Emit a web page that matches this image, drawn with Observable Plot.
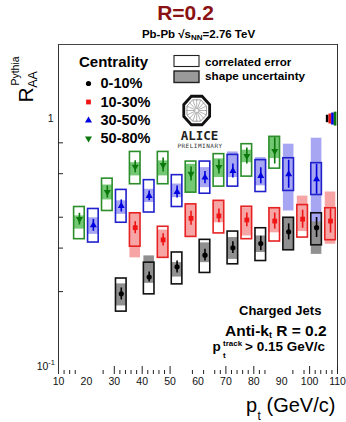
<!DOCTYPE html>
<html>
<head>
<meta charset="utf-8">
<script src="https://cdn.jsdelivr.net/npm/d3@7"></script>
<script src="https://cdn.jsdelivr.net/npm/@observablehq/plot@0.6"></script>
<style>
  html, body { margin: 0; padding: 0; background: #fff; }
  #chart { width: 346px; height: 422px; }
</style>
</head>
<body>
<div id="chart"></div>
<script>
// Centrality classes
const centralities = ["0-10%", "10-30%", "30-50%", "50-80%"];

// Rows: [pT, R_AA, stat low, stat high, correlated low, correlated high, shape low, shape high]
const cent0to10 = [
  [32.5, 0.196, 0.185, 0.207, 0.166, 0.226, 0.175, 0.215],
  [42.5, 0.229, 0.219, 0.240, 0.195, 0.262, 0.216, 0.279],
  [52.5, 0.252, 0.238, 0.266, 0.214, 0.288, 0.229, 0.262],
  [62.5, 0.281, 0.266, 0.297, 0.238, 0.324, 0.262, 0.315],
  [72.5, 0.301, 0.285, 0.318, 0.258, 0.350, 0.270, 0.331],
  [82.5, 0.313, 0.293, 0.335, 0.266, 0.361, 0.288, 0.336],
  [92.5, 0.349, 0.324, 0.376, 0.294, 0.398, 0.294, 0.398],
  [102.5, 0.363, 0.331, 0.399, 0.308, 0.415, 0.283, 0.415]
];
const cent10to30 = [
  [37.5, 0.363, 0.343, 0.384, 0.304, 0.415, 0.274, 0.415],
  [47.5, 0.324, 0.306, 0.343, 0.274, 0.366, 0.274, 0.355],
  [57.5, 0.396, 0.371, 0.423, 0.333, 0.451, 0.333, 0.451],
  [67.5, 0.405, 0.380, 0.432, 0.344, 0.466, 0.380, 0.466],
  [77.5, 0.390, 0.366, 0.416, 0.326, 0.441, 0.336, 0.437],
  [87.5, 0.386, 0.358, 0.416, 0.319, 0.435, 0.346, 0.435],
  [97.5, 0.393, 0.361, 0.427, 0.331, 0.448, 0.350, 0.487],
  [107.5, 0.386, 0.345, 0.432, 0.323, 0.435, 0.311, 0.506]
];
const cent30to50 = [
  [22.5, 0.371, 0.351, 0.392, 0.316, 0.432, 0.341, 0.398],
  [32.5, 0.444, 0.420, 0.470, 0.380, 0.516, 0.411, 0.466],
  [42.5, 0.488, 0.466, 0.511, 0.418, 0.565, 0.459, 0.519],
  [52.5, 0.506, 0.478, 0.535, 0.440, 0.592, 0.480, 0.545],
  [62.5, 0.579, 0.547, 0.612, 0.498, 0.672, 0.527, 0.635],
  [72.5, 0.616, 0.577, 0.657, 0.532, 0.715, 0.579, 0.735],
  [82.5, 0.588, 0.546, 0.634, 0.506, 0.681, 0.536, 0.697],
  [92.5, 0.597, 0.524, 0.680, 0.511, 0.693, 0.424, 0.790],
  [102.5, 0.570, 0.496, 0.655, 0.492, 0.662, 0.383, 0.835]
];
const cent50to80 = [
  [17.5, 0.393, 0.372, 0.415, 0.326, 0.440, 0.358, 0.405],
  [27.5, 0.506, 0.478, 0.535, 0.424, 0.573, 0.470, 0.540],
  [37.5, 0.640, 0.605, 0.677, 0.544, 0.735, 0.588, 0.665],
  [47.5, 0.650, 0.609, 0.694, 0.544, 0.735, 0.588, 0.676],
  [57.5, 0.599, 0.561, 0.639, 0.503, 0.672, 0.503, 0.655],
  [67.5, 0.639, 0.599, 0.682, 0.532, 0.720, 0.579, 0.689],
  [77.5, 0.708, 0.657, 0.763, 0.584, 0.790, 0.665, 0.747],
  [87.5, 0.742, 0.657, 0.838, 0.629, 0.846, 0.691, 0.846]
];

// Normalisation uncertainty at R_AA = 1, one per centrality class
const normUncertainty = [0.035, 0.047, 0.056, 0.065];

// Axis ticks
const xTickLabels = [10, 20, 30, 40, 50, 60, 70, 80, 90, 100, 110];
const xMajorTicks = [30, 40, 50, 70, 80, 100, 110];
const xMinorTicks = [12, 14, 16, 26, 32, 34, 36, 38, 42, 44, 46, 48, 58, 62, 66, 68, 72, 74, 76, 78, 82, 84, 94, 98, 102, 104, 106, 108];
const yMinorTicks = [0.2, 0.3, 0.4, 0.6, 0.8];

// Layout
const W = 346, H = 422;
const M = {top: 44, right: 9, bottom: 48, left: 58};
const xDomain = [10, 110], yDomain = [0.0924, 2.0];
const xs = d3.scaleLinear(xDomain, [M.left, W - M.right]);
const ys = d3.scaleLog(yDomain, [H - M.bottom, M.top]);
const frameW = W - M.left - M.right, frameH = H - M.top - M.bottom;

const series = [
  {rows: cent0to10,  marker: "#000000", line: "#111111", fill: "#909090", symbol: "circle",   rotate: 0,   r: 2.6},
  {rows: cent10to30, marker: "#f01414", line: "#e62222", fill: "#f6a4a4", symbol: "square",   rotate: 0,   r: 2.7},
  {rows: cent30to50, marker: "#0000e0", line: "#2020cc", fill: "#a6a6f2", symbol: "triangle", rotate: 0,   r: 2.6},
  {rows: cent50to80, marker: "#0a780a", line: "#2b8e2b", fill: "#74c874", symbol: "triangle", rotate: 180, r: 2.6}
];
const hw = 1.9; // half width of systematic boxes in GeV/c
const legendY = [83, 101.5, 120, 138];

const plot = Plot.plot({
  width: W, height: H,
  marginTop: M.top, marginRight: M.right, marginBottom: M.bottom, marginLeft: M.left,
  style: {fontFamily: "'Liberation Sans', Arial, sans-serif", background: "#fff", overflow: "visible"},
  x: {domain: xDomain, axis: null},
  y: {type: "log", domain: yDomain, axis: null},
  marks: [
    // shape uncertainty
    ...series.map(s => Plot.rect(s.rows, {x1: d => d[0] - hw, x2: d => d[0] + hw, y1: d => d[6], y2: d => d[7], fill: s.fill})),
    // correlated error
    ...series.map(s => Plot.rect(s.rows, {x1: d => d[0] - hw, x2: d => d[0] + hw, y1: d => d[4], y2: d => d[5], fill: "none", stroke: s.line, strokeWidth: 1.6})),
    // statistical error bars
    ...series.map(s => Plot.ruleX(s.rows, {x: d => d[0], y1: d => d[2], y2: d => d[3], stroke: s.marker, strokeWidth: 1.6})),
    // points
    ...series.map(s => Plot.dot(s.rows, {x: d => d[0], y: d => d[1], symbol: s.symbol, rotate: s.rotate, r: s.r, fill: s.marker, stroke: "none"})),
    // normalisation uncertainty boxes
    ...series.map((s, i) => Plot.rect([normUncertainty[i]], {x1: () => 106 + i * 0.95, x2: () => 106.95 + i * 0.95, y1: d => 1 - d, y2: d => 1 + d, fill: s.marker})),
    // frame
    Plot.ruleX([10, 110], {stroke: "#333", strokeWidth: 1}),
    Plot.ruleY([yDomain[1]], {stroke: "#444", strokeWidth: 1}),
    // ticks
    Plot.ruleX(xMajorTicks, {x: d => d, insetTop: frameH - 8, stroke: "#222"}),
    Plot.ruleX(xMinorTicks, {x: d => d, insetTop: frameH - 4, stroke: "#222"}),
    Plot.ruleY(yMinorTicks, {y: d => d, insetRight: frameW - 5, stroke: "#222"}),
    Plot.text(xTickLabels, {x: d => d, text: d => String(d), frameAnchor: "bottom", dy: 10.5, fontSize: 10.5, fill: "#111"}),
    Plot.text([1], {y: d => d, text: () => "1", frameAnchor: "left", dx: -5, textAnchor: "end", fontSize: 10.5, fill: "#111"}),
    // legend symbols
    ...series.map((s, i) => Plot.dot([centralities[i]], {x: () => xs.invert(88), y: () => ys.invert(legendY[i]), symbol: s.symbol, rotate: s.rotate, r: s.r, fill: s.marker, stroke: "none"})),
    Plot.rect([0], {x1: () => xs.invert(174), x2: () => xs.invert(199), y1: () => ys.invert(55.5), y2: () => ys.invert(66.5), fill: "#fff", stroke: "#222", strokeWidth: 1.1}),
    Plot.rect([0], {x1: () => xs.invert(174), x2: () => xs.invert(199), y1: () => ys.invert(71), y2: () => ys.invert(82.5), fill: "#9a9a9a", stroke: "#222", strokeWidth: 1.4}),
    Plot.text(centralities, {x: () => xs.invert(100), y: (d, i) => ys.invert(legendY[i]), textAnchor: "start", fontSize: 14.5, fontWeight: "bold", fill: "#000"})
  ]
});
document.getElementById("chart").appendChild(plot);

const svg = d3.select(plot);
const FONT = "'Liberation Sans', Arial, sans-serif";
function txt(x, y, str, size, opts = {}) {
  return svg.append("text")
    .attr("x", x).attr("y", y)
    .attr("font-family", opts.family || FONT)
    .attr("font-size", size)
    .attr("font-weight", opts.weight || "normal")
    .attr("text-anchor", opts.anchor || "start")
    .attr("fill", opts.fill || "#000")
    .text(str);
}

// Title and collision system
txt(185.5, 20, "R=0.2", 21, {weight: "bold", anchor: "middle", fill: "#8b1212"});
{
  const t = txt(198.5, 37.5, "Pb-Pb \u221As", 11.5, {weight: "bold", anchor: "middle"});
  t.append("tspan").attr("font-size", 8).attr("dy", 2.5).text("NN");
  t.append("tspan").attr("font-size", 11.5).attr("dy", -2.5).text("=2.76 TeV");
}

// Y axis title
svg.append("text").attr("transform", "translate(33,95) rotate(-90)")
  .attr("font-family", FONT).attr("font-size", 21).text("R");
svg.append("text").attr("transform", "translate(37,79.5) rotate(-90)")
  .attr("font-family", FONT).attr("font-size", 12.5).text("AA");
svg.append("text").attr("transform", "translate(18.5,71) rotate(-90)")
  .attr("font-family", FONT).attr("font-size", 10.5).text("Pythia");

// Lower y tick label 10^-1
{
  const t = txt(55, 369.5, "10", 10.5, {anchor: "end", fill: "#111"});
  t.append("tspan").attr("font-size", 7.5).attr("dy", -4.5).text("-1");
}

// Legend texts
txt(79, 67, "Centrality", 15, {weight: "bold"});
txt(205, 66.3, "correlated error", 11.6, {weight: "bold"});
txt(205, 80, "shape uncertainty", 11.7, {weight: "bold"});

// ALICE logo
{
  const g = svg.append("g").attr("transform", "translate(196.7,110.5) scale(1,1.1)");
  const oct = r => d3.range(8).map(k => {
    const a = Math.PI / 8 + k * Math.PI / 4;
    return [r * Math.cos(a), r * Math.sin(a)];
  });
  g.append("polygon").attr("points", oct(14).map(p => p.join(",")).join(" "))
    .attr("fill", "#fff").attr("stroke", "#111").attr("stroke-width", 2.8);
  g.append("polygon").attr("points", oct(10.5).map(p => p.join(",")).join(" "))
    .attr("fill", "none").attr("stroke", "#888").attr("stroke-width", 0.8);
  d3.range(16).forEach(k => {
    const a = k * Math.PI / 8;
    g.append("line")
      .attr("x1", 1.5 * Math.cos(a)).attr("y1", 1.5 * Math.sin(a))
      .attr("x2", 10.5 * Math.cos(a)).attr("y2", 10.5 * Math.sin(a))
      .attr("stroke", "#999").attr("stroke-width", 0.7);
  });
  txt(199.5, 140, "ALICE", 12.5, {family: "'DejaVu Sans Mono', monospace", weight: "bold", anchor: "middle", fill: "#222"});
  txt(200, 147.5, "PRELIMINARY", 6, {family: "'DejaVu Sans Mono', monospace", anchor: "middle", fill: "#333"})
    .attr("letter-spacing", 0.5);
}

// Jet definition
txt(239, 314.5, "Charged Jets", 13, {weight: "bold"});
{
  const t = txt(225, 335.5, "Anti-k", 15.5, {weight: "bold"});
  t.append("tspan").attr("font-size", 9).attr("dy", 2.5).text("t");
  t.append("tspan").attr("font-size", 15.5).attr("dy", -2.5).text(" R = 0.2");
}
txt(212.5, 351, "p", 13.5, {weight: "bold"});
txt(223, 346, "track", 8, {weight: "bold"});
txt(223, 357.5, "t", 8, {weight: "bold"});
txt(245, 351, "> 0.15 GeV/c", 13.5, {weight: "bold"});

// X axis title
txt(246, 411.5, "p", 20);
txt(257.5, 419.5, "t", 12);
txt(266.5, 411.5, "(GeV/c)", 20);
</script>
</body>
</html>
